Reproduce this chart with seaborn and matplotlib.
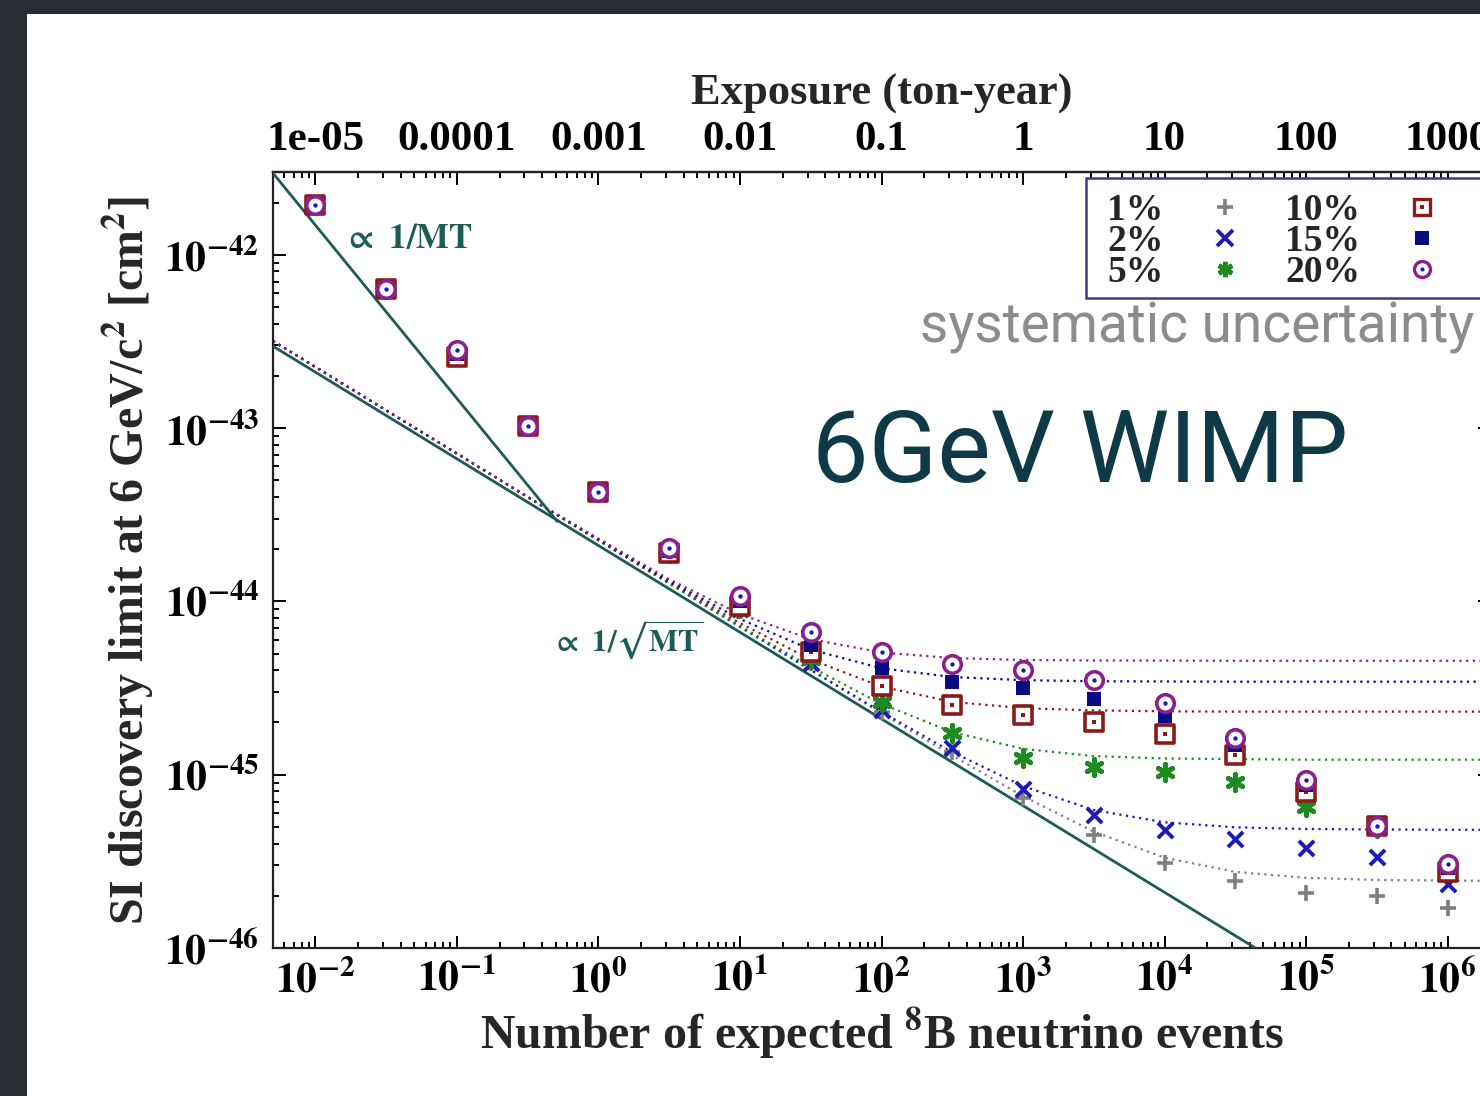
import numpy as np
import pandas as pd
import seaborn as sns
import matplotlib
matplotlib.use("Agg")
import matplotlib.pyplot as plt
from matplotlib.lines import Line2D
from matplotlib.patches import Rectangle
from matplotlib.ticker import LogLocator, NullFormatter, FixedLocator

# ---------------------------------------------------------------- data
# number of expected 8B neutrino events (half-decade grid)
events = [0.01, 0.0316, 0.1, 0.316, 1, 3.16, 10, 31.6, 100, 316,
          1000, 3160, 1e4, 3.16e4, 1e5, 3.16e5, 1e6]

# SI discovery limit [cm^2] for each systematic uncertainty
limit_1pct = [1.94e-42, 6.37e-43, 2.69e-43, 1.03e-43, 4.28e-44, 1.91e-44, 9.06e-45,
              4.43e-45, 2.31e-45, 1.36e-45, 7.36e-46, 4.50e-46, 3.10e-46, 2.44e-46,
              2.08e-46, 2.00e-46, 1.71e-46]
limit_2pct = [1.94e-42, 6.37e-43, 2.69e-43, 1.03e-43, 4.28e-44, 1.91e-44, 9.06e-45,
              4.43e-45, 2.37e-45, 1.43e-45, 8.30e-46, 5.87e-46, 4.81e-46, 4.26e-46,
              3.79e-46, 3.36e-46, 2.35e-46]
limit_5pct = [1.94e-42, 6.37e-43, 2.69e-43, 1.03e-43, 4.28e-44, 1.91e-44, 9.18e-45,
              4.65e-45, 2.64e-45, 1.75e-45, 1.25e-45, 1.11e-45, 1.03e-45, 9.10e-46,
              6.53e-46, 4.94e-46, 2.90e-46]
limit_10pct = [1.94e-42, 6.37e-43, 2.58e-43, 1.03e-43, 4.28e-44, 1.91e-44, 9.43e-45,
               5.12e-45, 3.26e-45, 2.53e-45, 2.22e-45, 2.02e-45, 1.72e-45, 1.30e-45,
               7.96e-46, 5.07e-46, 2.75e-46]
limit_15pct = [1.94e-42, 6.37e-43, 2.69e-43, 1.03e-43, 4.28e-44, 1.95e-44, 1.01e-44,
               5.62e-45, 4.14e-45, 3.44e-45, 3.17e-45, 2.74e-45, 2.19e-45, 1.49e-45,
               8.75e-46, 5.07e-46, 2.90e-46]
limit_20pct = [1.94e-42, 6.37e-43, 2.83e-43, 1.03e-43, 4.28e-44, 2.04e-44, 1.08e-44,
               6.68e-45, 5.12e-45, 4.37e-45, 4.03e-45, 3.53e-45, 2.60e-45, 1.63e-45,
               9.35e-46, 5.07e-46, 3.06e-46]

# fitted curves (dotted), sampled on a half-decade grid
curve_events = [0.005, 0.01, 0.0316, 0.1, 0.316, 1, 3.16, 10, 31.6, 100, 316,
                1000, 3160, 1e4, 3.16e4, 1e5, 3.16e5, 1e6, 2e6]
curve_low = [3.18e-43, 2.25e-43, 1.265e-43, 7.12e-44, 4.0e-44]
curve_20pct = curve_low + [2.30e-44, 1.34e-44, 8.44e-45, 6.05e-45, 5.07e-45, 4.71e-45,
                           4.59e-45, 4.56e-45, 4.55e-45, 4.54e-45, 4.54e-45, 4.54e-45,
                           4.54e-45, 4.54e-45]
curve_15pct = curve_low + [2.28e-44, 1.31e-44, 7.91e-45, 5.27e-45, 4.11e-45, 3.66e-45,
                           3.51e-45, 3.46e-45, 3.45e-45, 3.44e-45, 3.44e-45, 3.44e-45,
                           3.44e-45, 3.44e-45]
curve_10pct = curve_low + [2.26e-44, 1.29e-44, 7.49e-45, 4.62e-45, 3.22e-45, 2.63e-45,
                           2.42e-45, 2.35e-45, 2.32e-45, 2.31e-45, 2.31e-45, 2.31e-45,
                           2.31e-45, 2.31e-45]
curve_5pct = curve_low + [2.25e-44, 1.27e-44, 7.22e-45, 4.18e-45, 2.56e-45, 1.76e-45,
                          1.41e-45, 1.28e-45, 1.24e-45, 1.23e-45, 1.22e-45, 1.22e-45,
                          1.22e-45, 1.22e-45]
curve_2pct = curve_low + [2.25e-44, 1.27e-44, 7.14e-45, 4.03e-45, 2.30e-45, 1.35e-45,
                          8.59e-46, 6.25e-46, 5.31e-46, 4.97e-46, 4.86e-46, 4.83e-46,
                          4.81e-46, 4.81e-46]
curve_1pct = curve_low + [2.25e-44, 1.27e-44, 7.12e-45, 4.01e-45, 2.26e-45, 1.29e-45,
                          7.52e-46, 4.69e-46, 3.32e-46, 2.75e-46, 2.54e-46, 2.47e-46,
                          2.45e-46, 2.44e-46]

# scaling guides
mt_events = [0.005, 0.51]
mt_limit = [2.96e-42, 2.90e-44]
sqrt_events = [0.005, 2e6]
sqrt_limit = [2.97e-43, 1.48e-47]

series_labels = ["1%", "2%", "5%", "10%", "15%", "20%"]
x_tick_values = [1e-2, 1e-1, 1e0, 1e1, 1e2, 1e3, 1e4, 1e5, 1e6]
x_tick_labels = [r"$\mathbf{10^{-2}}$", r"$\mathbf{10^{-1}}$", r"$\mathbf{10^{0}}$",
                 r"$\mathbf{10^{1}}$", r"$\mathbf{10^{2}}$", r"$\mathbf{10^{3}}$",
                 r"$\mathbf{10^{4}}$", r"$\mathbf{10^{5}}$", r"$\mathbf{10^{6}}$"]
y_tick_values = [1e-46, 1e-45, 1e-44, 1e-43, 1e-42]
y_tick_labels = [r"$\mathbf{10^{-46}}$", r"$\mathbf{10^{-45}}$", r"$\mathbf{10^{-44}}$",
                 r"$\mathbf{10^{-43}}$", r"$\mathbf{10^{-42}}$"]
exposure_ticks = [1e-5, 1e-4, 1e-3, 1e-2, 1e-1, 1, 10, 100, 1000]
exposure_labels = ["1e-05", "0.0001", "0.001", "0.01", "0.1", "1", "10", "100", "1000"]

# ---------------------------------------------------------------- style
sns.set_theme(style="ticks")
plt.rcParams["font.family"] = ["Liberation Serif", "DejaVu Serif"]
plt.rcParams["font.weight"] = "bold"
plt.rcParams["mathtext.fontset"] = "stix"
plt.rcParams["axes.linewidth"] = 1.6

W, H = 1480, 1096
fig = plt.figure(figsize=(W / 100, H / 100), dpi=100)
fig.patch.set_facecolor("white")

# slide frame
fig.patches.append(Rectangle((0, 1 - 14 / H), 1, 14 / H, transform=fig.transFigure,
                             facecolor="#2a2d33", edgecolor="none", zorder=0))
fig.patches.append(Rectangle((0, 0), 27 / W, 1, transform=fig.transFigure,
                             facecolor="#2a2d33", edgecolor="none", zorder=0))

ax = fig.add_axes([273 / W, (H - 948) / H, (1490 - 273) / W, (948 - 172) / H])
ax.set_xscale("log")
ax.set_yscale("log")
ax.set_xlim(10 ** -2.3, 10 ** 6.3)
ax.set_ylim(1e-46, 3.0e-42)

guide_color = "#1d5c56"
colors = {
    "1%": "#808080",
    "2%": "#1c1cb4",
    "5%": "#1f8a1f",
    "10%": "#8b1a1a",
    "15%": "#0a0a82",
    "20%": "#8a1f8f",
}
curves = {
    "1%": curve_1pct, "2%": curve_2pct, "5%": curve_5pct,
    "10%": curve_10pct, "15%": curve_15pct, "20%": curve_20pct,
}
limits = {
    "1%": limit_1pct, "2%": limit_2pct, "5%": limit_5pct,
    "10%": limit_10pct, "15%": limit_15pct, "20%": limit_20pct,
}

# dotted fit curves
for lab in series_labels:
    sns.lineplot(x=curve_events, y=curves[lab], ax=ax, color=colors[lab],
                 linestyle=(0, (1, 2)), linewidth=1.6, sort=False,
                 estimator=None, legend=False, zorder=2)

# 1/MT and 1/sqrt(MT) guides
sns.lineplot(x=mt_events, y=mt_limit, ax=ax, color=guide_color, linewidth=2.0,
             sort=False, estimator=None, legend=False, zorder=3)
sns.lineplot(x=sqrt_events, y=sqrt_limit, ax=ax, color=guide_color, linewidth=2.0,
             sort=False, estimator=None, legend=False, zorder=3)

df = pd.DataFrame({
    "events": events * len(series_labels),
    "limit": sum((limits[l] for l in series_labels), []),
    "sys": np.repeat(series_labels, len(events)),
})

marker_kw = {
    "1%": dict(marker="+", s=140, linewidth=2.6),
    "2%": dict(marker="x", s=120, linewidth=2.8),
    "5%": dict(marker=(6, 2, 0), s=140, linewidth=3.4),
    "10%": dict(marker="s", s=180, linewidth=2.6, facecolor="white"),
    "15%": dict(marker="s", s=100, linewidth=0),
    "20%": dict(marker="o", s=160, linewidth=2.6, facecolor="white"),
}
for i, lab in enumerate(series_labels):
    sub = df[df["sys"] == lab]
    kw = dict(marker_kw[lab])
    if lab in ("10%", "20%"):
        sns.scatterplot(data=sub, x="events", y="limit", ax=ax, edgecolor=colors[lab],
                        legend=False, zorder=4 + i, **kw)
        sns.scatterplot(data=sub, x="events", y="limit", ax=ax, marker="s" if lab == "10%" else "o",
                        s=10, color=colors[lab] if lab == "10%" else "#1c1cb4",
                        linewidth=0, legend=False, zorder=4.5 + i)
    else:
        sns.scatterplot(data=sub, x="events", y="limit", ax=ax, color=colors[lab],
                        legend=False, zorder=4 + i, **kw)

# ---------------------------------------------------------------- axes
tick_kw = dict(direction="in", width=1.4, colors="black")
ax.set_xticks(x_tick_values)
ax.set_xticklabels(x_tick_labels)
ax.set_yticks(y_tick_values)
ax.set_yticklabels(y_tick_labels)
ax.xaxis.set_minor_locator(LogLocator(base=10, subs=np.arange(2, 10), numticks=30))
ax.yaxis.set_minor_locator(LogLocator(base=10, subs=np.arange(2, 10), numticks=30))
ax.xaxis.set_minor_formatter(NullFormatter())
ax.yaxis.set_minor_formatter(NullFormatter())
ax.tick_params(which="major", length=9, labelsize=30, pad=8, top=False, right=True, **tick_kw)
ax.tick_params(which="minor", length=4.5, top=False, right=True, **tick_kw)
ax.tick_params(axis="y", which="major", pad=10)

ax.set_xlabel(r"Number of expected $^{\mathbf{8}}$B neutrino events",
              fontsize=34.5, fontweight="bold", labelpad=4)
ax.set_ylabel("SI discovery limit at 6 GeV/c$^{\\mathbf{2}}$ [cm$^{\\mathbf{2}}$]",
              fontsize=34.5, fontweight="bold", labelpad=6)

secax = ax.secondary_xaxis("top", functions=(lambda n: n * 1e-3, lambda e: e * 1e3))
secax.xaxis.set_major_locator(FixedLocator(exposure_ticks))
secax.set_xticklabels(exposure_labels)
secax.xaxis.set_minor_locator(LogLocator(base=10, subs=np.arange(2, 10), numticks=30))
secax.xaxis.set_minor_formatter(NullFormatter())
secax.tick_params(which="major", length=9, labelsize=31, pad=9, **tick_kw)
secax.tick_params(which="minor", length=4.5, **tick_kw)
secax.set_xlabel("Exposure (ton-year)", fontsize=32, fontweight="bold", labelpad=12)

for side in ["left", "bottom", "top", "right"]:
    ax.spines[side].set_color("#222222")

# guide annotations
ax.text(0.0155, 1.22e-42, r"$\propto\ \mathbf{1/MT}$", fontsize=25,
        color=guide_color, va="center", ha="left")
ax.text(0.46, 6.0e-45, r"$\propto\ \mathbf{1/}\sqrt{\mathbf{MT}}$", fontsize=22,
        color=guide_color, va="center", ha="left")

# ---------------------------------------------------------------- legend
handles = []
for lab in series_labels:
    kw = marker_kw[lab]
    if lab == "10%":
        h = (Line2D([], [], linestyle="none", marker="s", markersize=12,
                    markerfacecolor="white", markeredgecolor=colors[lab], markeredgewidth=2.4),
             Line2D([], [], linestyle="none", marker="s", markersize=3,
                    markerfacecolor=colors[lab], markeredgewidth=0))
    elif lab == "20%":
        h = (Line2D([], [], linestyle="none", marker="o", markersize=11.5,
                    markerfacecolor="white", markeredgecolor=colors[lab], markeredgewidth=2.4),
             Line2D([], [], linestyle="none", marker="o", markersize=3,
                    markerfacecolor="#1c1cb4", markeredgewidth=0))
    elif lab == "15%":
        h = Line2D([], [], linestyle="none", marker="s", markersize=9.5,
                   markerfacecolor=colors[lab], markeredgewidth=0)
    else:
        h = Line2D([], [], linestyle="none", marker=kw["marker"], markersize=11,
                   color=colors[lab], markeredgewidth=kw["linewidth"])
    handles.append(h)

# legend box runs past the right edge of the slide
legend_box = Rectangle((1086 / W, (H - 298) / H), (1500 - 1086) / W, 120 / H,
                       transform=fig.transFigure, facecolor="white",
                       edgecolor="#3a3a8c", linewidth=1.8, clip_on=False, zorder=19)
ax.add_patch(legend_box)

leg = ax.legend(handles, series_labels, ncol=2, loc="upper left",
                bbox_to_anchor=(1092 / W, (H - 178) / H), bbox_transform=fig.transFigure,
                borderaxespad=0, frameon=False, markerfirst=False,
                labelspacing=-0.1, handlelength=1.2, handletextpad=1.05,
                columnspacing=1.0, borderpad=0.4,
                prop={"family": "Liberation Serif", "weight": "bold", "size": 27})
leg.set_zorder(20)

# ---------------------------------------------------------------- slide text
fig.text(920 / W, (H - 343) / H, "systematic uncertainty", fontsize=39.6,
         family=["Roboto", "DejaVu Sans"], fontweight="normal", color="#8c8c8c",
         ha="left", va="baseline")
fig.text(812 / W, (H - 482) / H, "6GeV WIMP", fontsize=72.5,
         family=["Roboto", "DejaVu Sans"], fontweight="normal", color="#0e3a48",
         ha="left", va="baseline")

fig.savefig("out.png", dpi=100)
